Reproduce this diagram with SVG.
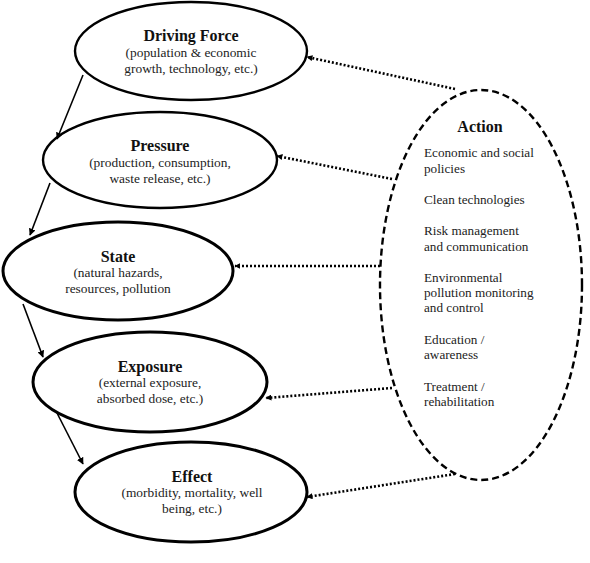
<svg xmlns="http://www.w3.org/2000/svg" width="590" height="563" viewBox="0 0 590 563">
<defs>
<marker id="ah" viewBox="0 0 10 10" refX="9" refY="5" markerWidth="7" markerHeight="7" markerUnits="userSpaceOnUse" orient="auto">
<path d="M0,0 L10,5 L0,10 z" fill="#000"/>
</marker>
<marker id="ahd" viewBox="0 0 10 10" refX="9" refY="5" markerWidth="6" markerHeight="6" markerUnits="userSpaceOnUse" orient="auto">
<path d="M0,0 L10,5 L0,10 z" fill="#000"/>
</marker>
</defs>
<style>
.n { fill: #fff; stroke: #000; stroke-width: 2.4; }
.nt { fill: #fff; stroke: #000; stroke-width: 3; }
.act { fill: #fff; stroke: #000; stroke-width: 2.4; stroke-dasharray: 7 4; }
.t { font-family: "Liberation Serif", "Times New Roman", serif; font-weight: bold; font-size: 16px; text-anchor: middle; fill: #111; }
.s { font-family: "Liberation Serif", "Times New Roman", serif; font-size: 13.4px; text-anchor: middle; fill: #222; }
.a { font-family: "Liberation Serif", "Times New Roman", serif; font-size: 13.2px; fill: #222; }
.solid { stroke: #000; stroke-width: 1.6; fill: none; marker-end: url(#ah); }
.dot { stroke: #000; stroke-width: 2.6; stroke-dasharray: 2 2; fill: none; marker-end: url(#ahd); }
</style>
<rect width="590" height="563" fill="#fff"/>
<g id="action">
<ellipse class="act" cx="481" cy="285" rx="101" ry="195"/>
<text class="t" x="480" y="132">Action</text>
<text class="a" x="424" y="157">Economic and social</text>
<text class="a" x="424" y="173">policies</text>
<text class="a" x="424" y="204">Clean technologies</text>
<text class="a" x="424" y="235">Risk management</text>
<text class="a" x="424" y="251">and communication</text>
<text class="a" x="424" y="282">Environmental</text>
<text class="a" x="424" y="297">pollution monitoring</text>
<text class="a" x="424" y="312">and control</text>
<text class="a" x="424" y="344">Education /</text>
<text class="a" x="424" y="359">awareness</text>
<text class="a" x="424" y="391">Treatment /</text>
<text class="a" x="424" y="406">rehabilitation</text>
</g>
<g id="driving-force">
<ellipse class="n" cx="191" cy="51" rx="116" ry="49"/>
<text class="t" x="191" y="41">Driving Force</text>
<text class="s" x="191" y="57">(population &amp; economic</text>
<text class="s" x="191" y="73">growth, technology, etc.)</text>
</g>
<g id="pressure">
<ellipse class="n" cx="160" cy="160" rx="117" ry="48"/>
<text class="t" x="160" y="151">Pressure</text>
<text class="s" x="160" y="167">(production, consumption,</text>
<text class="s" x="160" y="183">waste release, etc.)</text>
</g>
<g id="state">
<ellipse class="nt" cx="118" cy="271" rx="115" ry="49"/>
<text class="t" x="118" y="262">State</text>
<text class="s" x="118" y="277">(natural hazards,</text>
<text class="s" x="118" y="293">resources, pollution</text>
</g>
<g id="exposure">
<ellipse class="nt" cx="150" cy="382" rx="117" ry="50"/>
<text class="t" x="150" y="372">Exposure</text>
<text class="s" x="150" y="387">(external exposure,</text>
<text class="s" x="150" y="403">absorbed dose, etc.)</text>
</g>
<g id="effect">
<ellipse class="nt" cx="191" cy="492" rx="116" ry="50"/>
<text class="t" x="192" y="482">Effect</text>
<text class="s" x="192" y="497">(morbidity, mortality, well</text>
<text class="s" x="192" y="513">being, etc.)</text>
</g>
<g id="connectors">
<line class="solid" x1="83" y1="75" x2="57" y2="139"/>
<line class="solid" x1="50" y1="183" x2="30" y2="235"/>
<line class="solid" x1="23" y1="304" x2="43" y2="357"/>
<line class="solid" x1="57" y1="413" x2="83" y2="464"/>
<line class="dot" x1="455" y1="89" x2="307" y2="57"/>
<line class="dot" x1="392" y1="179" x2="277" y2="156"/>
<line class="dot" x1="380" y1="266" x2="235" y2="266"/>
<line class="dot" x1="392" y1="388" x2="266" y2="398"/>
<line class="dot" x1="455" y1="474" x2="307" y2="497"/>
</g>
</svg>
